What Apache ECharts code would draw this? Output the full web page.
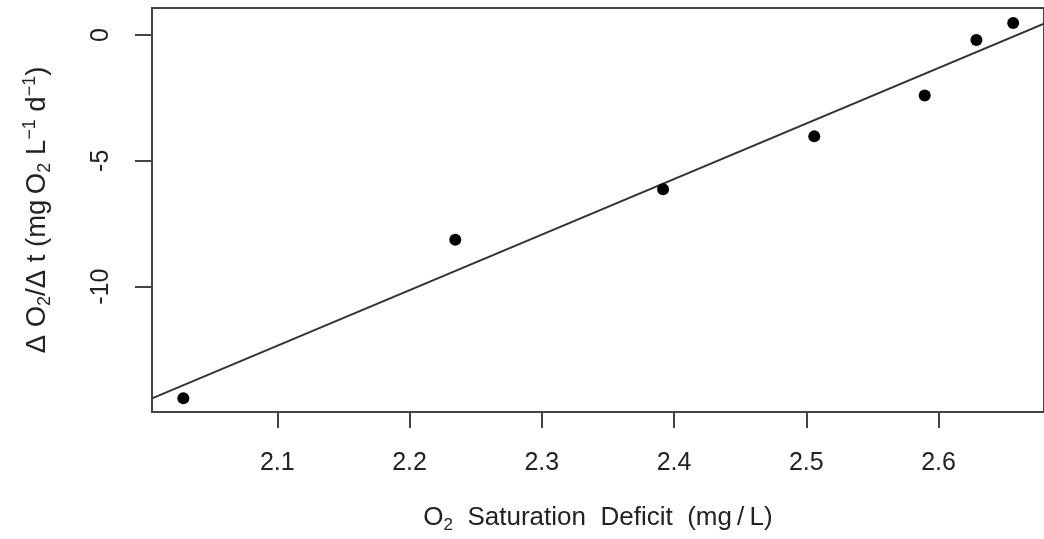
<!DOCTYPE html>
<html>
<head>
<meta charset="utf-8">
<script src="https://cdn.jsdelivr.net/npm/echarts@6/dist/echarts.min.js"></script>
<style>
html,body{margin:0;padding:0;background:#fff;}
#chart{width:1044px;height:539px;}
</style>
</head>
<body>
<div id="chart"></div>
<script>
// Data
const deficit = [2.029, 2.2346, 2.3917, 2.506, 2.5895, 2.6286, 2.6564];
const rate = [-14.43, -8.14, -6.13, -4.03, -2.41, -0.20, 0.47];
const xTicks = [2.1, 2.2, 2.3, 2.4, 2.5, 2.6];
const yTicks = [-10, -5, 0];
const xMin = 2.0053, xMax = 2.6797;
const yMin = -14.98, yMax = 1.07;

// Least-squares fit line (abline of lm)
const n = deficit.length;
const mx = deficit.reduce((a, b) => a + b, 0) / n;
const my = rate.reduce((a, b) => a + b, 0) / n;
let sxy = 0, sxx = 0;
for (let i = 0; i < n; i++) {
  sxy += (deficit[i] - mx) * (rate[i] - my);
  sxx += (deficit[i] - mx) * (deficit[i] - mx);
}
const slope = sxy / sxx;
const intercept = my - slope * mx;
const fitLine = [[xMin, intercept + slope * xMin], [xMax, intercept + slope * xMax]];

const points = deficit.map((x, i) => [x, rate[i]]);

const FONT = 'Liberation Sans, Arial, sans-serif';
const TXT = '#222';
const TS = 26;
const chart = echarts.init(document.getElementById('chart'));
chart.setOption({
  animation: false,
  backgroundColor: '#fff',
  grid: {
    left: 152, top: 8, width: 897, height: 406,
    show: true, borderColor: '#444', borderWidth: 2, containLabel: false
  },
  xAxis: {
    type: 'value', min: xMin, max: xMax,
    axisLine: { show: true, onZero: false, lineStyle: { color: '#444', width: 2 } },
    axisTick: { show: true, length: 16, customValues: xTicks, lineStyle: { color: '#444', width: 2 } },
    axisLabel: { customValues: xTicks, color: TXT, fontSize: 25, fontFamily: FONT, margin: 39,
      formatter: v => v.toFixed(1) },
    splitLine: { show: false },
    name: '{t|O}{sub|2}{t|  Saturation  Deficit  (mg\u2009/\u2009L)}',
    nameLocation: 'middle', nameGap: 90,
    nameTextStyle: {
      fontFamily: FONT, color: TXT,
      rich: {
        t: { fontSize: TS, fontFamily: FONT, color: TXT, lineHeight: 32 },
        sub: { fontSize: 17, fontFamily: FONT, color: TXT, lineHeight: 15, verticalAlign: 'bottom' }
      }
    }
  },
  yAxis: {
    type: 'value', min: yMin, max: yMax,
    axisLine: { show: true, onZero: false, lineStyle: { color: '#444', width: 2 } },
    axisTick: { show: true, length: 17, customValues: yTicks, lineStyle: { color: '#444', width: 2 } },
    axisLabel: { customValues: yTicks, color: TXT, fontSize: 25, fontFamily: FONT, margin: 38, rotate: 90 },
    splitLine: { show: false },
    name: '{t|Δ O}{sub|2}{t|/Δ t (mg\u2009O}{sub|2}{t| L}{sup|−1}{t| d}{sup|−1}{t|)}',
    nameLocation: 'middle', nameRotate: 90, nameGap: 98,
    nameTextStyle: {
      fontFamily: FONT, color: TXT,
      rich: {
        t: { fontSize: 27.5, fontFamily: FONT, color: TXT, lineHeight: 33 },
        sub: { fontSize: 18, fontFamily: FONT, color: TXT, lineHeight: 15, verticalAlign: 'bottom' },
        sup: { fontSize: 18, fontFamily: FONT, color: TXT, lineHeight: 17, verticalAlign: 'top' }
      }
    }
  },
  series: [
    {
      type: 'line', data: fitLine, showSymbol: false, symbol: 'none',
      lineStyle: { color: '#333', width: 2 }, silent: true, clip: true, z: 2
    },
    {
      type: 'scatter', data: points, symbol: 'circle', symbolSize: 12,
      itemStyle: { color: '#000', opacity: 1 }, z: 3
    }
  ]
});
</script>
</body>
</html>
